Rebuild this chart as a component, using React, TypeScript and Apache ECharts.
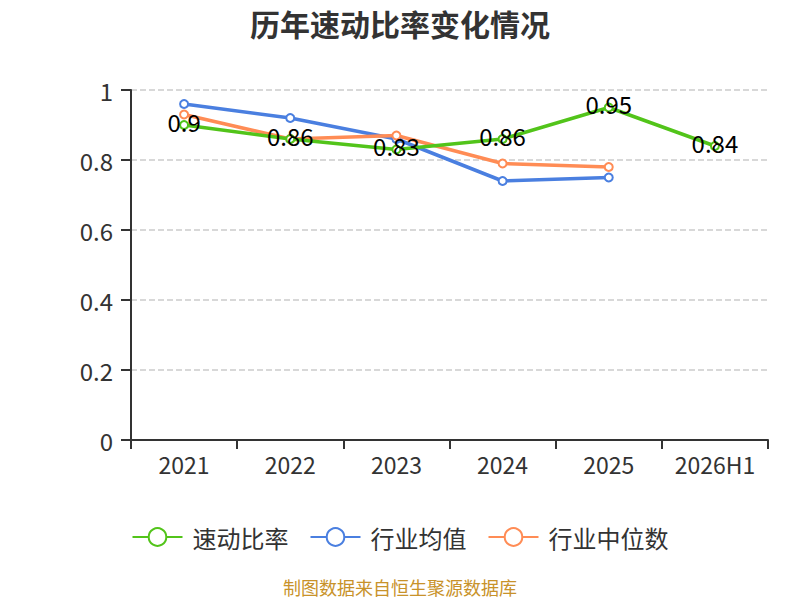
import React, { useEffect, useRef } from "react";
import * as echarts from "echarts";

const categories = ["2021", "2022", "2023", "2024", "2025", "2026H1"];
const quickRatio = [0.9, 0.86, 0.83, 0.86, 0.95, 0.84];
const industryAvg = [0.96, 0.92, 0.86, 0.74, 0.75, null];
const industryMedian = [0.93, 0.86, 0.87, 0.79, 0.78, null];

export default function App() {
  const ref = useRef<HTMLDivElement>(null);
  useEffect(() => {
    const chart = echarts.init(ref.current!, null, { renderer: "svg" });
    const font = "'Microsoft YaHei', 'Noto Sans CJK SC', sans-serif";
    chart.setOption({
      animation: false,
      textStyle: { fontFamily: font },
      title: {
        text: "历年速动比率变化情况",
        left: "center",
        top: 3,
        textStyle: { fontSize: 30, fontWeight: "bold", color: "#333", fontFamily: font },
      },
      grid: { left: 131, right: 32, top: 90, bottom: 160 },
      legend: {
        top: 520,
        left: "center",
        itemWidth: 50,
        itemHeight: 22,
        itemGap: 21,
        textStyle: { fontSize: 24, color: "#333", padding: [0, 0, 0, 5] },
        data: ["速动比率", "行业均值", "行业中位数"],
      },
      xAxis: {
        type: "category",
        data: categories,
        boundaryGap: true,
        axisLine: { lineStyle: { color: "#333", width: 2 } },
        axisTick: { show: true, interval: 0, length: 9, lineStyle: { color: "#333", width: 2 } },
        axisLabel: { interval: 0, fontSize: 23, color: "#333", margin: 12 },
      },
      yAxis: {
        type: "value",
        min: 0,
        max: 1,
        interval: 0.2,
        axisLine: { show: true, lineStyle: { color: "#333", width: 2 } },
        axisTick: { show: true, length: 10, lineStyle: { color: "#333", width: 2 } },
        axisLabel: { fontSize: 24, color: "#333", margin: 18 },
        splitLine: { lineStyle: { type: "dashed", color: "#ccc", width: 1.5 } },
      },
      series: [
        {
          name: "速动比率",
          type: "line",
          data: quickRatio,
          color: "#52c41a",
          symbol: "emptyCircle",
          symbolSize: 8,
          lineStyle: { width: 3.5 },
          label: { show: true, position: "inside", offset: [0, -4], fontSize: 24, color: "#000" },
          z: 3,
        },
        {
          name: "行业均值",
          type: "line",
          data: industryAvg,
          color: "#4a7fe0",
          symbol: "emptyCircle",
          symbolSize: 8,
          lineStyle: { width: 3.5 },
          z: 2,
        },
        {
          name: "行业中位数",
          type: "line",
          data: industryMedian,
          color: "#ff8c55",
          symbol: "emptyCircle",
          symbolSize: 8,
          lineStyle: { width: 3.5 },
          z: 2,
        },
      ],
      graphic: [
        {
          type: "text",
          left: "center",
          top: 578,
          style: { text: "制图数据来自恒生聚源数据库", fontSize: 18, fill: "#c8922a", fontFamily: font },
        },
      ],
    });
    return () => chart.dispose();
  }, []);
  return (
    <div
      ref={ref}
      style={{ position: "absolute", left: 0, top: 0, width: 800, height: 600 }}
    />
  );
}
